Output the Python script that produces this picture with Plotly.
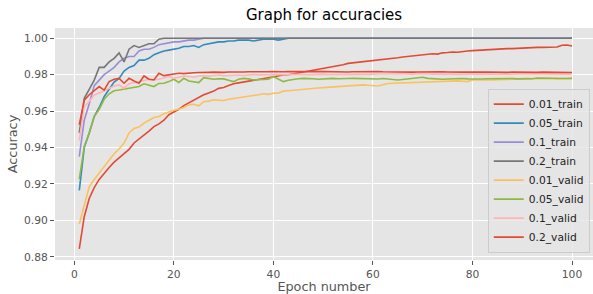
import plotly.graph_objects as go

epochs = list(range(1, 101))

train_001 = [0.8844, 0.902, 0.912, 0.918, 0.9225, 0.926, 0.929, 0.932, 0.9345, 0.937,
             0.939, 0.9425, 0.9445, 0.947, 0.949, 0.9515, 0.953, 0.955, 0.958, 0.9595,
             0.961, 0.963, 0.9645, 0.966, 0.9675, 0.969, 0.970, 0.971, 0.9725, 0.973,
             0.974, 0.975, 0.9755, 0.976, 0.9765, 0.977, 0.9775, 0.978, 0.9785, 0.979,
             0.9795, 0.9798, 0.980, 0.9805, 0.981, 0.9812, 0.9818, 0.9822, 0.9828, 0.9832,
             0.9838, 0.9844, 0.985, 0.9855, 0.9862, 0.9865, 0.9868, 0.987, 0.9874, 0.9877,
             0.988, 0.988, 0.9885, 0.989, 0.9893, 0.9897, 0.990, 0.9903, 0.9908, 0.991,
             0.9912, 0.9915, 0.9913, 0.992, 0.9922, 0.9925, 0.9923, 0.9928, 0.993, 0.9932,
             0.9934, 0.9933, 0.9937, 0.994, 0.994, 0.9942, 0.9943, 0.9943, 0.9945, 0.9945,
             0.9947, 0.9948, 0.995, 0.995, 0.9952, 0.9953, 0.9952, 0.9962, 0.9963, 0.9958]

train_005 = [0.9165, 0.940, 0.948, 0.957, 0.962, 0.968, 0.972, 0.976, 0.978, 0.982,
             0.984, 0.985, 0.988, 0.988, 0.989, 0.991, 0.992, 0.993, 0.9935, 0.994,
             0.9945, 0.9955, 0.9955, 0.996, 0.995, 0.9965, 0.997, 0.9975, 0.998, 0.998,
             0.9985, 0.9985, 0.999, 0.999, 0.999, 0.9985, 0.999, 0.9995, 0.9995, 0.9995,
             0.999, 0.9995, 1.0, 1.0, 1.0, 1.0, 1.0, 1.0, 1.0, 1.0,
             1.0, 1.0, 1.0, 1.0, 1.0, 1.0, 1.0, 1.0, 1.0, 1.0,
             1.0, 1.0, 1.0, 1.0, 1.0, 1.0, 1.0, 1.0, 1.0, 1.0,
             1.0, 1.0, 1.0, 1.0, 1.0, 1.0, 1.0, 1.0, 1.0, 1.0,
             1.0, 1.0, 1.0, 1.0, 1.0, 1.0, 1.0, 1.0, 1.0, 1.0,
             1.0, 1.0, 1.0, 1.0, 1.0, 1.0, 1.0, 1.0, 1.0, 1.0]

train_01 = [0.935, 0.955, 0.964, 0.974, 0.977, 0.980, 0.982, 0.984, 0.987, 0.989,
            0.990, 0.990, 0.993, 0.994, 0.994, 0.995, 0.9965, 0.997, 0.9975, 0.998,
            0.998, 0.9985, 0.999, 0.999, 0.9995, 1.0, 1.0, 1.0, 1.0, 1.0,
            1.0, 1.0, 1.0, 1.0, 1.0, 1.0, 1.0, 1.0, 1.0, 1.0,
            1.0, 1.0, 1.0, 1.0, 1.0, 1.0, 1.0, 1.0, 1.0, 1.0,
            1.0, 1.0, 1.0, 1.0, 1.0, 1.0, 1.0, 1.0, 1.0, 1.0,
            1.0, 1.0, 1.0, 1.0, 1.0, 1.0, 1.0, 1.0, 1.0, 1.0,
            1.0, 1.0, 1.0, 1.0, 1.0, 1.0, 1.0, 1.0, 1.0, 1.0,
            1.0, 1.0, 1.0, 1.0, 1.0, 1.0, 1.0, 1.0, 1.0, 1.0,
            1.0, 1.0, 1.0, 1.0, 1.0, 1.0, 1.0, 1.0, 1.0, 1.0]

train_02 = [0.948, 0.967, 0.972, 0.977, 0.984, 0.984, 0.987, 0.989, 0.992, 0.987,
            0.994, 0.996, 0.995, 0.996, 0.997, 0.997, 0.9995, 1.0, 1.0, 1.0,
            1.0, 1.0, 1.0, 1.0, 1.0, 1.0, 1.0, 1.0, 1.0, 1.0,
            1.0, 1.0, 1.0, 1.0, 1.0, 1.0, 1.0, 1.0, 1.0, 1.0,
            1.0, 1.0, 1.0, 1.0, 1.0, 1.0, 1.0, 1.0, 1.0, 1.0,
            1.0, 1.0, 1.0, 1.0, 1.0, 1.0, 1.0, 1.0, 1.0, 1.0,
            1.0, 1.0, 1.0, 1.0, 1.0, 1.0, 1.0, 1.0, 1.0, 1.0,
            1.0, 1.0, 1.0, 1.0, 1.0, 1.0, 1.0, 1.0, 1.0, 1.0,
            1.0, 1.0, 1.0, 1.0, 1.0, 1.0, 1.0, 1.0, 1.0, 1.0,
            1.0, 1.0, 1.0, 1.0, 1.0, 1.0, 1.0, 1.0, 1.0, 1.0]

valid_001 = [0.898, 0.9077, 0.9184, 0.9224, 0.926, 0.9293, 0.9333, 0.9366, 0.9392, 0.9425,
             0.948, 0.9505, 0.9512, 0.9534, 0.955, 0.9565, 0.957, 0.9585, 0.9595, 0.9605,
             0.961, 0.962, 0.9635, 0.9638, 0.9629, 0.9652, 0.9655, 0.9662, 0.966, 0.9658,
             0.9665, 0.967, 0.9675, 0.9678, 0.9684, 0.9686, 0.969, 0.9695, 0.9692, 0.9698,
             0.9699, 0.971, 0.9712, 0.9715, 0.9717, 0.972, 0.9725, 0.9726, 0.9727, 0.9729,
             0.9731, 0.9735, 0.9733, 0.9737, 0.9739, 0.974, 0.9742, 0.9744, 0.9742, 0.9739,
             0.9738, 0.9745, 0.9752, 0.9753, 0.9754, 0.9755, 0.9756, 0.9757, 0.9759, 0.976,
             0.9761, 0.9762, 0.9764, 0.9766, 0.9767, 0.9768, 0.9766, 0.9764, 0.9762, 0.9771,
             0.977, 0.9772, 0.977, 0.9771, 0.9773, 0.9772, 0.9774, 0.9775, 0.9777, 0.9779,
             0.978, 0.9778, 0.9779, 0.978, 0.9779, 0.9778, 0.9776, 0.9777, 0.978, 0.978]

valid_005 = [0.9227, 0.9406, 0.948, 0.957, 0.961, 0.9665, 0.9695, 0.9712, 0.9716, 0.972,
             0.9724, 0.9728, 0.9735, 0.975, 0.9742, 0.9735, 0.9752, 0.9753, 0.9762, 0.9775,
             0.9757, 0.978, 0.9765, 0.9762, 0.9757, 0.9784, 0.978, 0.9775, 0.9777, 0.9777,
             0.977, 0.9762, 0.9775, 0.978, 0.9777, 0.9771, 0.9773, 0.9775, 0.9775, 0.979,
             0.9775, 0.9762, 0.977, 0.9775, 0.9778, 0.978, 0.978, 0.9778, 0.9775, 0.9777,
             0.9779, 0.978, 0.9778, 0.9777, 0.9779, 0.978, 0.9779, 0.978, 0.9778, 0.9779,
             0.9776, 0.9779, 0.9775, 0.9772, 0.9771, 0.9774, 0.9776, 0.978, 0.9784, 0.9786,
             0.978, 0.9777, 0.9776, 0.9775, 0.9776, 0.9778, 0.9777, 0.9779, 0.9777, 0.9776,
             0.9775, 0.9776, 0.9778, 0.9779, 0.978, 0.978, 0.9781, 0.9779, 0.9777, 0.9776,
             0.9775, 0.9778, 0.9782, 0.9781, 0.978, 0.9779, 0.978, 0.978, 0.9779, 0.978]

valid_01 = [0.944, 0.9625, 0.9653, 0.9689, 0.970, 0.9712, 0.9726, 0.9738, 0.9744, 0.9726,
            0.975, 0.9755, 0.9762, 0.9768, 0.9775, 0.9772, 0.9775, 0.9782, 0.979, 0.978,
            0.9788, 0.9793, 0.979, 0.9786, 0.9793, 0.9795, 0.9792, 0.9796, 0.9798, 0.9795,
            0.9797, 0.98, 0.9798, 0.9796, 0.9799, 0.9801, 0.9799, 0.9798, 0.98, 0.9802,
            0.9801, 0.9799, 0.98, 0.9802, 0.9803, 0.9801, 0.98, 0.9802, 0.9804, 0.9803,
            0.9801, 0.9802, 0.9803, 0.9802, 0.9804, 0.9805, 0.9803, 0.9802, 0.9801, 0.9803,
            0.9804, 0.9803, 0.9802, 0.9804, 0.9805, 0.9804, 0.9802, 0.9803, 0.9805, 0.9806,
            0.9804, 0.9803, 0.9804, 0.9805, 0.9804, 0.9803, 0.9802, 0.9804, 0.9805, 0.9804,
            0.9803, 0.9804, 0.9805, 0.9806, 0.9805, 0.9804, 0.9803, 0.9804, 0.9805, 0.9804,
            0.9803, 0.9804, 0.9805, 0.9804, 0.9803, 0.9804, 0.9805, 0.9804, 0.9803, 0.9804]

valid_02 = [0.9525, 0.966, 0.969, 0.9715, 0.9735, 0.9715, 0.9762, 0.9775, 0.978, 0.9753,
            0.978, 0.9765, 0.9753, 0.9793, 0.9775, 0.9771, 0.9808, 0.9795, 0.98, 0.9804,
            0.9808, 0.9806, 0.981, 0.9811, 0.9812, 0.9811, 0.9813, 0.9814, 0.9812, 0.9813,
            0.9815, 0.9814, 0.9813, 0.9815, 0.9816, 0.9815, 0.9814, 0.9815, 0.9816, 0.9817,
            0.9815, 0.9816, 0.9817, 0.9816, 0.9815, 0.9816, 0.9817, 0.9818, 0.9817, 0.9816,
            0.9815, 0.9816, 0.9817, 0.9816, 0.9815, 0.9816, 0.9817, 0.9816, 0.9815, 0.9816,
            0.9817, 0.9816, 0.9815, 0.9814, 0.9815, 0.9816, 0.9815, 0.9814, 0.9815, 0.9816,
            0.9815, 0.9814, 0.9815, 0.9816, 0.9815, 0.9814, 0.9813, 0.9814, 0.9815, 0.9814,
            0.9813, 0.9814, 0.9815, 0.9814, 0.9813, 0.9814, 0.9813, 0.9814, 0.9813, 0.9814,
            0.9813, 0.9812, 0.9813, 0.9814, 0.9813, 0.9812, 0.9813, 0.9812, 0.9813, 0.9812]

series_names = ["0.01_train", "0.05_train", "0.1_train", "0.2_train",
                "0.01_valid", "0.05_valid", "0.1_valid", "0.2_valid"]
series_values = [train_001, train_005, train_01, train_02,
                 valid_001, valid_005, valid_01, valid_02]
colors = ["#E24A33", "#348ABD", "#988ED5", "#777777",
          "#FBC15E", "#8EBA42", "#FFB5B8", "#E24A33"]

x_ticks = [0, 20, 40, 60, 80, 100]
y_ticks = [0.88, 0.90, 0.92, 0.94, 0.96, 0.98, 1.00]

fig = go.Figure()
for name, vals, col in zip(series_names, series_values, colors):
    fig.add_trace(go.Scatter(x=epochs, y=vals, mode="lines", name=name,
                             line=dict(color=col, width=1.6)))

font_family = "DejaVu Sans"
fig.update_layout(
    width=593, height=294,
    margin=dict(l=55, r=0, t=28, b=33.5, autoexpand=False),
    paper_bgcolor="white",
    plot_bgcolor="#E5E5E5",
    font=dict(family=font_family, color="#555555", size=10.7),
    title=dict(text="Graph for accuracies", x=0.5, xanchor="center", xref="paper",
               y=1 - 15 / 294, yanchor="middle",
               font=dict(family=font_family, size=15, color="black")),
    xaxis=dict(range=[-3.878, 104.22], tickvals=x_ticks, automargin=False,
               showgrid=True, gridcolor="white", gridwidth=1,
               zeroline=False, ticks="outside", ticklen=4, tickcolor="#555555",
               tickfont=dict(size=10.7, color="#555555"),
               title=dict(text="Epoch number", standoff=1,
                          font=dict(size=12.8, color="#555555"))),
    yaxis=dict(range=[0.87825, 1.00564], tickvals=y_ticks, tickformat=".2f",
               automargin=False,
               showgrid=True, gridcolor="white", gridwidth=1,
               zeroline=False, ticks="outside", ticklen=4, tickcolor="#555555",
               tickfont=dict(size=10.7, color="#555555"),
               title=dict(text="Accuracy", standoff=3,
                          font=dict(size=12.8, color="#555555"))),
    legend=dict(x=0.994, y=0.032, xanchor="right", yanchor="bottom",
                bgcolor="rgba(229,229,229,0.8)", bordercolor="#CCCCCC", borderwidth=1,
                font=dict(size=10.7, color="#222222"), tracegroupgap=0,
                itemwidth=30),
    showlegend=True,
)

fig.write_html("out.html", config={"displayModeBar": False},
               post_script="document.body.style.margin='0';document.body.style.overflow='hidden';")
